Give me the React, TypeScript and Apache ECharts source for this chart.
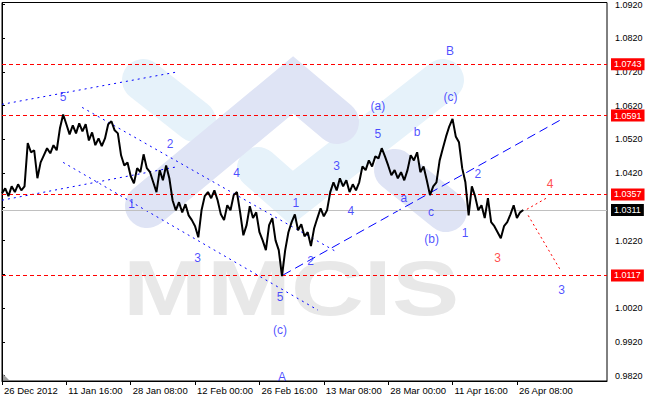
import React, { useEffect, useRef } from "react";
import * as echarts from "echarts";

// ---- data ----
const timeLabels = [
  "26 Dec 2012", "11 Jan 16:00", "28 Jan 08:00", "12 Feb 00:00", "26 Feb 16:00",
  "13 Mar 08:00", "28 Mar 00:00", "11 Apr 16:00", "26 Apr 08:00",
];
const labelBars = [0, 20, 40, 60, 80, 100, 120, 140, 160];
const priceTicks = [0.982, 0.992, 1.002, 1.012, 1.022, 1.032, 1.042, 1.052, 1.062, 1.072, 1.082, 1.092];
// 1.0120 sits fully under the 1.0117 level box in the reference
const priceTickLabels = [0.982, 0.992, 1.002, 1.022, 1.032, 1.042, 1.052, 1.062, 1.072, 1.082, 1.092];

const closes = [
  1.0361, 1.0375, 1.0352, 1.0381, 1.0364, 1.0387, 1.0369, 1.0381, 1.0509, 1.0482,
  1.0488, 1.0405, 1.0452, 1.0473, 1.0494, 1.0479, 1.0503, 1.0488, 1.0553, 1.0594,
  1.0565, 1.0535, 1.0562, 1.0538, 1.0568, 1.0544, 1.0565, 1.0517, 1.0541, 1.0503,
  1.0523, 1.0500, 1.0523, 1.0565, 1.0574, 1.0547, 1.0538, 1.0473, 1.0443, 1.0452,
  1.0411, 1.0390, 1.0435, 1.0423, 1.0476, 1.0435, 1.0423, 1.0393, 1.0364, 1.0429,
  1.0399, 1.0443, 1.0405, 1.0340, 1.0310, 1.0334, 1.0304, 1.0328, 1.0295, 1.0281,
  1.0263, 1.0230, 1.0310, 1.0352, 1.0364, 1.0346, 1.0369, 1.0340, 1.0298, 1.0281,
  1.0325, 1.0310, 1.0355, 1.0364, 1.0304, 1.0236, 1.0266, 1.0322, 1.0287, 1.0304,
  1.0245, 1.0221, 1.0192, 1.0266, 1.0287, 1.0221, 1.0192, 1.0115, 1.0192, 1.0245,
  1.0275, 1.0298, 1.0251, 1.0269, 1.0233, 1.0245, 1.0204, 1.0257, 1.0287, 1.0316,
  1.0292, 1.0310, 1.0364, 1.0393, 1.0369, 1.0405, 1.0381, 1.0399, 1.0364, 1.0387,
  1.0369, 1.0393, 1.0440, 1.0429, 1.0458, 1.0440, 1.0470, 1.0464, 1.0494, 1.0470,
  1.0443, 1.0414, 1.0429, 1.0405, 1.0423, 1.0399, 1.0429, 1.0473, 1.0458, 1.0482,
  1.0423, 1.0440, 1.0399, 1.0355, 1.0381, 1.0393, 1.0458, 1.0494, 1.0529, 1.0559,
  1.0581, 1.0529, 1.0512, 1.0435, 1.0393, 1.0295, 1.0381, 1.0352, 1.0310, 1.0325,
  1.0287, 1.0346, 1.0275, 1.0263, 1.0245, 1.0227, 1.0263, 1.0275, 1.0298, 1.0325,
  1.0287, 1.0304, 1.0311,
];

const levels = [1.0743, 1.0591, 1.0357, 1.0117];
const currentPrice = 1.0311;

// annotation lines: [bar, price] end points
const channelTop = [[0, 1.0624], [53.8, 1.0719]];
const channelBottom = [[0, 1.034], [53.8, 1.0438]];
const declineTop = [[24.9, 1.0615], [104.1, 1.0186]];
const declineBottom = [[19.0, 1.0452], [98.2, 1.0014]];
const riseLine = [[87.3, 1.0118], [173.4, 1.0577]];
const forecastUp = [[163.1, 1.0313], [169.7, 1.0349]];
const forecastDown = [[163.5, 1.0295], [173.7, 1.013]];

// wave labels
const blueWaveText = ["5", "2", "1", "3", "4", "1", "2", "5", "(c)", "A", "3", "4", "5", "(a)", "b", "a", "c", "(b)", "(c)", "B", "2", "1", "3"];
const blueWaveBar = [19.0, 52.2, 40.3, 60.8, 72.9, 91.3, 95.9, 86.4, 86.4, 87.0, 104.0, 108.4, 116.8, 116.8, 129.0, 124.9, 133.3, 133.5, 139.4, 139.2, 147.9, 143.9, 173.9];
const blueWavePrice = [1.0645, 1.0506, 1.0328, 1.0169, 1.0421, 1.0332, 1.0159, 1.0054, 0.9955, 0.9816, 1.044, 1.0308, 1.0535, 1.0618, 1.0542, 1.0346, 1.0305, 1.0224, 1.0646, 1.0782, 1.0417, 1.0242, 1.0073];
const redWaveText = ["3", "4"];
const redWaveBar = [154.0, 170.3];
const redWavePrice = [1.017, 1.0387];

const FONT = "Liberation Sans";

export default function App() {
  const ref = useRef<HTMLDivElement>(null);

  useEffect(() => {
    const chart = echarts.init(ref.current!, null, { renderer: "svg" });

    const overlay = (data: number[][], color: string, type: any) => ({
      type: "line",
      data,
      symbol: "none",
      silent: true,
      z: 3,
      lineStyle: { color, width: 1, type },
    });

    const waveSeries = (texts: string[], bars: number[], prices: number[], color: string) => ({
      type: "scatter",
      symbolSize: 1,
      silent: true,
      z: 6,
      itemStyle: { color: "transparent" },
      label: {
        show: true,
        position: "inside",
        formatter: "{b}",
        color,
        fontSize: 12,
        fontFamily: FONT,
      },
      data: texts.map((t, i) => ({ name: t, value: [bars[i], prices[i]] })),
    });

    const boxLabel = (bg: string) => ({
      show: true,
      position: "end",
      distance: 4,
      formatter: (p: any) => Number(p.value).toFixed(4),
      backgroundColor: bg,
      color: "#ffffff",
      fontSize: 9,
      fontFamily: FONT,
      padding: [2, 3, 1, 3],
    });

    chart.setOption({
      animation: false,
      backgroundColor: "#ffffff",
      textStyle: { fontFamily: FONT },
      grid: {
        left: 2,
        right: 43,
        top: 2,
        bottom: 19,
        show: true,
        borderColor: "#000000",
        borderWidth: 1,
        backgroundColor: "transparent",
      },
      xAxis: {
        type: "value",
        min: 0,
        max: 188,
        position: "bottom",
        axisLine: { show: true, lineStyle: { color: "#000000" } },
        axisTick: { show: true, length: 4, customValues: labelBars, lineStyle: { color: "#000000" } },
        axisLabel: {
          customValues: labelBars,
          formatter: (v: number) => {
            const k = labelBars.indexOf(Math.round(v));
            return k >= 0 ? timeLabels[k] : "";
          },
          align: "left",
          margin: 4,
          fontSize: 9.5,
          color: "#000000",
          padding: [0, 0, 0, 2],
        },
        splitLine: { show: false },
      },
      yAxis: {
        type: "value",
        position: "right",
        min: 0.98041,
        max: 1.09259,
        axisLine: { show: true, lineStyle: { color: "#000000" } },
        axisTick: { show: true, length: 3, customValues: priceTicks, lineStyle: { color: "#000000" } },
        axisLabel: {
          customValues: priceTickLabels,
          formatter: (v: number) => v.toFixed(4),
          fontSize: 9,
          color: "#000000",
          margin: 8,
        },
        splitLine: { show: false },
      },
      graphic: [
        {
          type: "polyline",
          z: 0,
          silent: true,
          shape: { points: [[143, 80], [195, 121]] },
          style: { stroke: "#e6f2fa", lineWidth: 42, lineCap: "round", fill: null },
        },
        {
          type: "polyline",
          z: 0,
          silent: true,
          shape: { points: [[258, 168], [292, 198], [443, 80]] },
          style: { stroke: "#e6f2fa", lineWidth: 42, lineCap: "round", lineJoin: "miter", fill: null },
        },
        {
          type: "polyline",
          z: 0,
          silent: true,
          shape: { points: [[147, 206], [293, 85], [337, 122]] },
          style: { stroke: "#dfe4f5", lineWidth: 44, lineCap: "round", lineJoin: "miter", fill: null },
        },
        {
          type: "polyline",
          z: 0,
          silent: true,
          shape: { points: [[395, 170], [446, 211]] },
          style: { stroke: "#dfe4f5", lineWidth: 42, lineCap: "round", fill: null },
        },
        {
          type: "text",
          z: 0,
          silent: true,
          x: 123,
          y: 288,
          scaleX: 1.31,
          style: {
            text: "MMCIS",
            fill: "#e8e8e8",
            fontSize: 77,
            fontWeight: "bold",
            fontFamily: FONT,
            align: "left",
            verticalAlign: "middle",
          },
        },
        {
          type: "polygon",
          z: 1,
          silent: true,
          shape: { points: [[3, 374], [3, 380], [9, 380]] },
          style: { fill: "#a0a0a0" },
        },
      ],
      series: [
        {
          type: "line",
          data: [],
          z: 1,
          silent: true,
          markLine: {
            silent: true,
            precision: 4,
            symbol: ["none", "none"],
            animation: false,
            data: [
              ...levels.map((v) => ({
                yAxis: v,
                lineStyle: { color: "#ff0000", type: [4, 3], width: 1 },
                label: boxLabel("#ff0000"),
              })),
              {
                yAxis: currentPrice,
                lineStyle: { color: "#c0c0c0", type: "solid", width: 1 },
                label: boxLabel("#000000"),
              },
            ],
          },
        },
        overlay(channelTop, "#0000ff", [2, 4]),
        overlay(channelBottom, "#0000ff", [2, 4]),
        overlay(declineTop, "#0000ff", [2, 4]),
        overlay(declineBottom, "#0000ff", [2, 4]),
        overlay(riseLine, "#0000ff", [9, 5]),
        overlay(forecastUp, "#ff0000", [2, 3]),
        overlay(forecastDown, "#ff0000", [2, 3]),
        {
          type: "line",
          data: closes.map((p, i) => [i, p]),
          symbol: "none",
          silent: true,
          z: 5,
          lineStyle: { color: "#000000", width: 2 },
        },
        waveSeries(blueWaveText, blueWaveBar, blueWavePrice, "#1f1fff"),
        waveSeries(redWaveText, redWaveBar, redWavePrice, "#ff2020"),
      ],
    });

    return () => chart.dispose();
  }, []);

  return (
    <div
      ref={ref}
      style={{ position: "fixed", left: 0, top: 0, width: 650, height: 400, background: "#ffffff" }}
    />
  );
}
